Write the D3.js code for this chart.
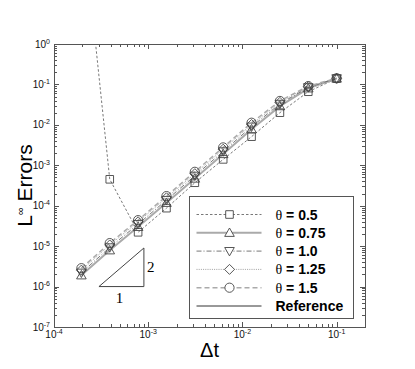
<!DOCTYPE html>
<html>
<head>
<meta charset="utf-8">
<script src="https://cdn.jsdelivr.net/npm/d3@7"></script>
<style>
  body { margin: 0; background: #fff; }
  svg { display: block; }
</style>
</head>
<body>
<svg width="415" height="369"></svg>
<script>
// time steps (halved each run)
const dt = [1.953125e-4, 3.90625e-4, 7.8125e-4, 1.5625e-3, 3.125e-3, 6.25e-3, 1.25e-2, 2.5e-2, 5e-2, 1e-1];

// L-infinity errors for each theta
const err05  = [2300, 4.5e-4, 2.2e-5, 8.7e-5, 3.7e-4, 1.4e-3, 5.1e-3, 2.0e-2, 6.6e-2, 0.14];
const err075 = [1.9e-6, 7.9e-6, 3.0e-5, 1.18e-4, 4.7e-4, 1.9e-3, 7.8e-3, 2.9e-2, 8.0e-2, 0.14];
const err10  = [2.2e-6, 9.3e-6, 3.5e-5, 1.38e-4, 5.5e-4, 2.2e-3, 9.0e-3, 3.3e-2, 8.5e-2, 0.141];
const err125 = [2.55e-6, 1.07e-5, 4.0e-5, 1.57e-4, 6.2e-4, 2.5e-3, 1.02e-2, 3.6e-2, 8.8e-2, 0.142];
const err15  = [2.85e-6, 1.19e-5, 4.4e-5, 1.73e-4, 6.9e-4, 2.77e-3, 1.13e-2, 3.9e-2, 9.1e-2, 0.142];

const legendLabels = ["0.5", "0.75", "1.0", "1.25", "1.5"];

// slope-2 reference triangle
const refX = [3e-4, 9e-4, 9e-4, 3e-4];
const refY = [1e-6, 1e-6, 9e-6, 1e-6];

const xTickExp = [-4, -3, -2, -1];
const yTickExp = [0, -1, -2, -3, -4, -5, -6, -7];

const svg = d3.select("svg");
const margin = {left: 54, top: 44, right: 50, bottom: 42};
const W = 415 - margin.left - margin.right,
      H = 369 - margin.top - margin.bottom;

const x = d3.scaleLog().domain([1e-4, 2e-1]).range([0, W]);
const y = d3.scaleLog().domain([1e-7, 1]).range([H, 0]);

const g = svg.append("g").attr("transform", `translate(${margin.left},${margin.top})`);

g.append("clipPath").attr("id", "clip")
  .append("rect").attr("width", W).attr("height", H);

const axisColor = "#555";

// ticks on all four sides, pointing inward
function minorVals(lo, hi) {
  const out = [];
  for (let e = lo; e < hi; e++)
    for (let k = 2; k <= 9; k++) out.push(k * Math.pow(10, e));
  return out;
}
const xMajor = xTickExp.map(e => Math.pow(10, e));
const xMinor = minorVals(-4, 0).filter(v => v < 2e-1);
const yMajor = yTickExp.map(e => Math.pow(10, e));
const yMinor = minorVals(-7, 0);

const ticks = g.append("g").attr("stroke", axisColor).attr("stroke-width", 1);
[[xMajor, 5], [xMinor, 3]].forEach(([vals, len]) => {
  vals.forEach(v => {
    const px = Math.round(x(v)) + 0.5;
    ticks.append("line").attr("x1", px).attr("x2", px).attr("y1", H).attr("y2", H - len);
    ticks.append("line").attr("x1", px).attr("x2", px).attr("y1", 0).attr("y2", len);
  });
});
[[yMajor, 5], [yMinor, 3]].forEach(([vals, len]) => {
  vals.forEach(v => {
    const py = Math.round(y(v)) + 0.5;
    ticks.append("line").attr("y1", py).attr("y2", py).attr("x1", 0).attr("x2", len);
    ticks.append("line").attr("y1", py).attr("y2", py).attr("x1", W).attr("x2", W - len);
  });
});

// tick labels as 10^n
const labelFont = "'Liberation Sans', Arial, sans-serif";
xTickExp.forEach(e => {
  const t = g.append("text")
    .attr("x", x(Math.pow(10, e)))
    .attr("y", H + 11)
    .attr("text-anchor", "middle")
    .attr("font-family", labelFont)
    .attr("font-size", 10)
    .attr("fill", "#111");
  t.append("tspan").text("10");
  t.append("tspan").attr("dy", -4).attr("font-size", 7).text(e);
});
yTickExp.forEach(e => {
  const t = g.append("text")
    .attr("x", -4)
    .attr("y", y(Math.pow(10, e)) + 3.5)
    .attr("text-anchor", "end")
    .attr("font-family", labelFont)
    .attr("font-size", 10)
    .attr("fill", "#111");
  t.append("tspan").text("10");
  t.append("tspan").attr("dy", -4).attr("font-size", 7).text(e);
});

// series styles
const series = [
  {vals: err05,  shape: "square", color: "#555", width: 0.8, dash: "2.5,2"},
  {vals: err075, shape: "up",     color: "#aaa", width: 2,   dash: null},
  {vals: err10,  shape: "down",   color: "#555", width: 0.8, dash: "5,2,1,2"},
  {vals: err125, shape: "diamond",color: "#888", width: 0.8, dash: "1,1.2"},
  {vals: err15,  shape: "circle", color: "#aaa", width: 1.5, dash: "5,3"}
];

function markerPath(shape) {
  switch (shape) {
    case "square": return "M-3.8,-3.8H3.8V3.8H-3.8Z";
    case "up": return "M0,-4.8L4.8,3.6H-4.8Z";
    case "down": return "M0,4.8L4.8,-3.6H-4.8Z";
    case "diamond": return "M0,-5L5,0L0,5L-5,0Z";
    case "circle": return "M4.6,0A4.6,4.6 0 1,1 -4.6,0A4.6,4.6 0 1,1 4.6,0Z";
  }
}

const line = d3.line().x(d => x(d[0])).y(d => y(d[1]));
const plot = g.append("g").attr("clip-path", "url(#clip)");

series.forEach(s => {
  const pts = dt.map((d, i) => [d, s.vals[i]]);
  plot.append("path")
    .attr("d", line(pts))
    .attr("fill", "none")
    .attr("stroke", s.color)
    .attr("stroke-width", s.width)
    .attr("stroke-dasharray", s.dash);
});
series.forEach(s => {
  const pts = dt.map((d, i) => [d, s.vals[i]]);
  plot.selectAll(null).data(pts).join("path")
    .attr("transform", d => `translate(${x(d[0])},${y(d[1])})`)
    .attr("d", markerPath(s.shape))
    .attr("fill", "none")
    .attr("stroke", "#444")
    .attr("stroke-width", 0.9);
});

// reference slope triangle
plot.append("path")
  .attr("d", line(refX.map((d, i) => [d, refY[i]])))
  .attr("fill", "none")
  .attr("stroke", "#444")
  .attr("stroke-width", 1);

g.append("text")
  .attr("x", x(Math.sqrt(refX[0] * refX[1])) - 2)
  .attr("y", y(refY[0]) + 16)
  .attr("text-anchor", "middle")
  .attr("font-family", "'Liberation Serif', 'Times New Roman', serif")
  .attr("font-size", 15)
  .text("1");
g.append("text")
  .attr("x", x(refX[1]) + 3)
  .attr("y", y(Math.sqrt(refY[1] * refY[2])) + 5)
  .attr("font-family", "'Liberation Serif', 'Times New Roman', serif")
  .attr("font-size", 15)
  .text("2");

// frame
g.append("rect")
  .attr("x", 0.5).attr("y", 0.5)
  .attr("width", W).attr("height", H)
  .attr("fill", "none")
  .attr("stroke", axisColor)
  .attr("stroke-width", 1);

// legend
const lg = svg.append("g").attr("transform", "translate(189.5,196.5)");
lg.append("rect")
  .attr("width", 164).attr("height", 122)
  .attr("fill", "#fff")
  .attr("stroke", axisColor)
  .attr("stroke-width", 1);

const rowY = i => 18 + i * 18.3;
series.forEach((s, i) => {
  lg.append("line")
    .attr("x1", 7).attr("x2", 72)
    .attr("y1", rowY(i)).attr("y2", rowY(i))
    .attr("stroke", s.color)
    .attr("stroke-width", s.width)
    .attr("stroke-dasharray", s.dash);
  lg.append("path")
    .attr("transform", `translate(40,${rowY(i)})`)
    .attr("d", markerPath(s.shape))
    .attr("fill", "#fff")
    .attr("stroke", "#444")
    .attr("stroke-width", 0.9);
  const t = lg.append("text")
    .attr("x", 86).attr("y", rowY(i) + 5)
    .attr("font-size", 14);
  t.append("tspan")
    .attr("font-family", "'Liberation Serif', 'Times New Roman', serif")
    .text("θ");
  t.append("tspan")
    .attr("font-family", labelFont)
    .attr("font-weight", "bold")
    .text(" = " + legendLabels[i]);
});
lg.append("line")
  .attr("x1", 7).attr("x2", 72)
  .attr("y1", rowY(5)).attr("y2", rowY(5))
  .attr("stroke", "#333")
  .attr("stroke-width", 1);
lg.append("text")
  .attr("x", 86).attr("y", rowY(5) + 5)
  .attr("font-family", labelFont)
  .attr("font-weight", "bold")
  .attr("font-size", 14)
  .text("Reference");

// axis titles
svg.append("text")
  .attr("x", margin.left + W / 2)
  .attr("y", 357)
  .attr("text-anchor", "middle")
  .attr("font-family", labelFont)
  .attr("font-size", 20)
  .text("Δt");

const yt = svg.append("text")
  .attr("transform", `translate(32,${margin.top + H / 2}) rotate(-90)`)
  .attr("text-anchor", "middle")
  .attr("font-family", labelFont)
  .attr("font-size", 21);
yt.append("tspan").text("L");
yt.append("tspan").attr("dy", -8).attr("font-size", 11).text("∞");
yt.append("tspan").attr("dy", 8).text(" Errors");
</script>
</body>
</html>
